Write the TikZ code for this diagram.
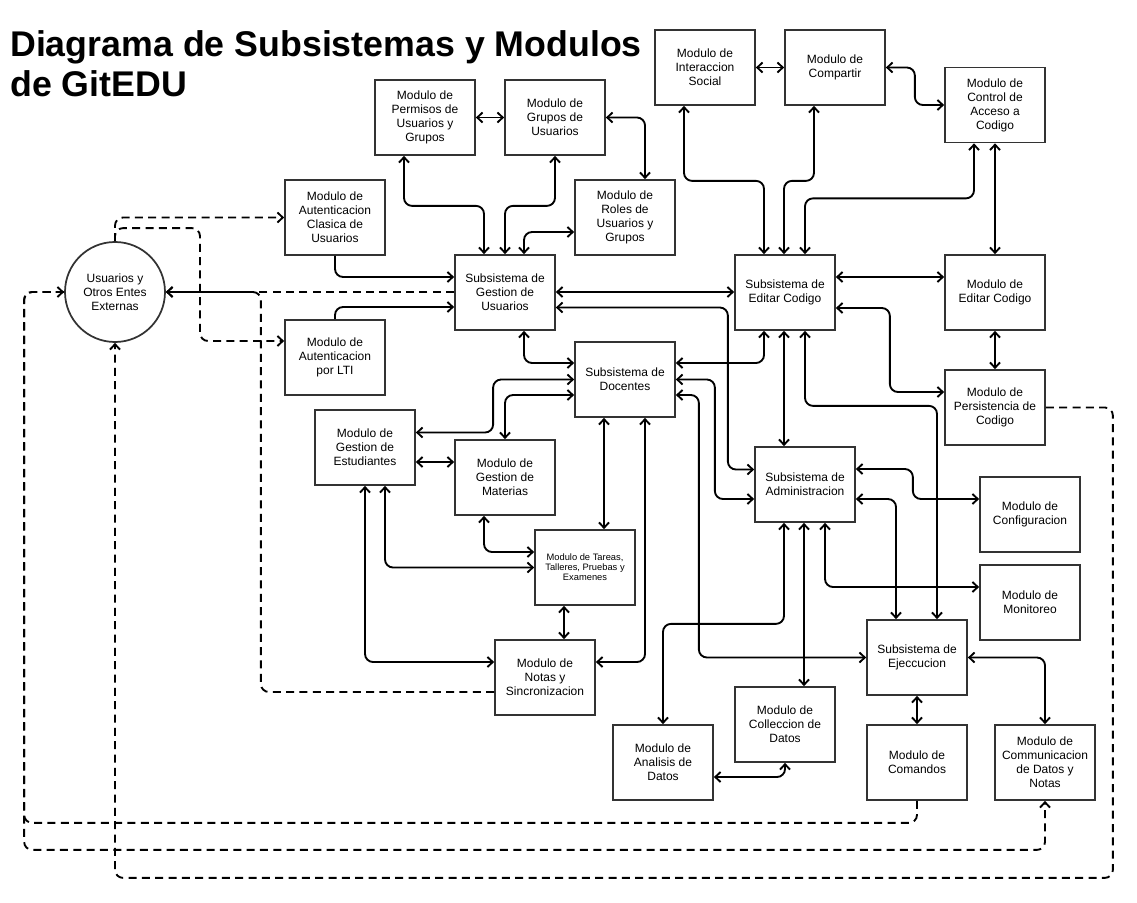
\documentclass[tikz,border=0pt]{standalone}
\usepackage{fontspec}
\setmainfont{Liberation Sans}
\usetikzlibrary{arrows.meta,calc}
\tikzset{
  >={Straight Barb[length=4pt,width=7.5pt]},
  modulo/.style={draw=black!80, line width=1.3pt, minimum width=75pt, minimum height=56.25pt, inner sep=1pt, align=center, font=\fontsize{9}{10.5}\selectfont},
  enlace/.style={line width=1.4pt, rounded corners=6pt},
  externo/.style={line width=1.4pt, rounded corners=6pt, dash pattern=on 6pt off 4pt}
}

\begin{document}
\begin{tikzpicture}[x=0.75pt,y=-0.75pt]
\useasboundingbox (0,0) rectangle (1137,902);
\node[anchor=north west, inner sep=0pt, align=left, font=\fontsize{26.8}{30}\selectfont\bfseries] (titulo) at (10,30) {Diagrama de Subsistemas y Modulos\\de GitEDU};

\node[modulo] (perm) at (425,117.5) {Modulo de\\Permisos de\\Usuarios y\\Grupos};
\node[modulo] (grupos) at (555,117.5) {Modulo de\\Grupos de\\Usuarios};
\node[modulo] (inter) at (705,67.5) {Modulo de\\Interaccion\\Social};
\node[modulo] (compartir) at (835,67.5) {Modulo de\\Compartir};
\node[modulo] (control) at (995,105) {Modulo de\\Control de\\Acceso a\\Codigo};
\node[modulo] (autcla) at (335,217.5) {Modulo de\\Autenticacion\\Clasica de\\Usuarios};
\node[modulo] (roles) at (625,217.5) {Modulo de\\Roles de\\Usuarios y\\Grupos};
\node[modulo, circle, minimum size=75pt, inner sep=0pt] (usr) at (115,292) {Usuarios y\\Otros Entes\\Externas};
\node[modulo] (gu) at (505,292.5) {Subsistema de\\Gestion de\\Usuarios};
\node[modulo] (ec) at (785,292.5) {Subsistema de\\Editar Codigo};
\node[modulo] (emod) at (995,292.5) {Modulo de\\Editar Codigo};
\node[modulo] (autlti) at (335,357.5) {Modulo de\\Autenticacion\\por LTI};
\node[modulo] (doc) at (625,379.5) {Subsistema de\\Docentes};
\node[modulo] (pers) at (995,407.5) {Modulo de\\Persistencia de\\Codigo};
\node[modulo] (est) at (365,447.5) {Modulo de\\Gestion de\\Estudiantes};
\node[modulo] (mat) at (505,477.5) {Modulo de\\Gestion de\\Materias};
\node[modulo] (adm) at (805,484.5) {Subsistema de\\Administracion};
\node[modulo] (conf) at (1030,514.5) {Modulo de\\Configuracion};
\node[modulo, font=\fontsize{7}{7.5}\selectfont] (tar) at (585,567.5) {Modulo de Tareas,\\Talleres, Pruebas y\\Examenes};
\node[modulo] (mon) at (1030,602.5) {Modulo de\\Monitoreo};
\node[modulo] (eje) at (917,657.5) {Subsistema de\\Ejeccucion};
\node[modulo] (notas) at (545,677.5) {Modulo de\\Notas y\\Sincronizacion};
\node[modulo] (col) at (785,724.5) {Modulo de\\Colleccion de\\Datos};
\node[modulo] (ana) at (663,762.5) {Modulo de\\Analisis de\\Datos};
\node[modulo] (com) at (917,762.5) {Modulo de\\Comandos};
\node[modulo] (comm) at (1045,762.5) {Modulo de\\Communicacion\\de Datos y\\Notas};

\draw[enlace,<->] (perm.east) -- (grupos.west);
\draw[enlace,<->] (grupos.east) -| ($(roles.north)+(20,0)$);
\draw[enlace,<->] ($(perm.south)+(-21,0)$) -- ++(0,50) -| ($(gu.north)+(-21,0)$);
\draw[enlace,<->] (grupos.south) -- ++(0,50) -| (gu.north);
\draw[enlace,<->] ($(roles.west)+(0,14.5)$) -| ($(gu.north)+(19,0)$);
\draw[enlace,->] (autcla.south) |- ($(gu.west)+(0,-15.5)$);
\draw[enlace,->] (autlti.north) |- ($(gu.west)+(0,14.5)$);
\draw[enlace,<->] ($(gu.east)+(0,-0.5)$) -- ($(ec.west)+(0,-0.5)$);
\draw[enlace,<->] ($(gu.east)+(0,15)$) -- ++(172,0) |- ($(adm.west)+(0,-15)$);
\draw[enlace,<->] ($(gu.south)+(19,0)$) |- ($(doc.west)+(0,-16.5)$);
\draw[enlace,<->] (doc.west) -- ++(-81,0) |- ($(est.east)+(0,-15)$);
\draw[enlace,<->] ($(doc.west)+(0,15.5)$) -| (mat.north);
\draw[enlace,<->] ($(est.east)+(0,14.5)$) -- ($(mat.west)+(0,-15.5)$);
\draw[enlace,<->] ($(doc.south)+(-21,0)$) -- ($(tar.north)+(19,0)$);
\draw[enlace,<->] ($(doc.south)+(20,0)$) |- ($(notas.east)+(0,-15.5)$);
\draw[enlace,<->] ($(doc.east)+(0,-16.5)$) -| ($(ec.south)+(-21,0)$);
\draw[enlace,<->] (doc.east) -- ++(39,0) |- ($(adm.west)+(0,14.5)$);
\draw[enlace,<->] ($(doc.east)+(0,15.5)$) -- ++(23,0) |- (eje.west);
\draw[enlace,<->] (est.south) |- ($(notas.west)+(0,-15.5)$);
\draw[enlace,<->] ($(est.south)+(20,0)$) |- (tar.west);
\draw[enlace,<->] ($(mat.south)+(-21,0)$) |- ($(tar.west)+(0,-15.5)$);
\draw[enlace,<->] ($(tar.south)+(-21,0)$) -- ($(notas.north)+(19,0)$);

\draw[enlace,<->] (inter.east) -- (compartir.west);
\draw[enlace,<->] (compartir.east) -- ++(29,0) |- (control.west);
\draw[enlace,<->] ($(inter.south)+(-21,0)$) -- ++(0,75) -| ($(ec.north)+(-21,0)$);
\draw[enlace,<->] ($(compartir.south)+(-21,0)$) -- ++(0,75) -| ($(ec.north)+(-1,0)$);
\draw[enlace,<->] ($(control.south)+(-21,0)$) -- ++(0,55) -| ($(ec.north)+(20,0)$);
\draw[enlace,<->] (control.south) -- (emod.north);
\draw[enlace,<->] ($(ec.east)+(0,-15.5)$) -- ($(emod.west)+(0,-15.5)$);
\draw[enlace,<->] ($(ec.east)+(0,15.5)$) -- ++(54,0) |- ($(pers.west)+(0,-15.5)$);
\draw[enlace,<->] (emod.south) -- (pers.north);
\draw[enlace,<->] ($(ec.south)+(-1,0)$) -- ($(adm.north)+(-21,0)$);
\draw[enlace,<->] ($(ec.south)+(20,0)$) -- ++(0,75) -| ($(eje.north)+(20,0)$);

\draw[enlace,<->] ($(adm.east)+(0,-15.5)$) -- ++(57,0) |- ($(conf.west)+(0,-15.5)$);
\draw[enlace,<->] ($(adm.east)+(0,14.5)$) -| ($(eje.north)+(-21,0)$);
\draw[enlace,<->] ($(adm.south)+(20,0)$) |- ($(mon.west)+(0,-15.5)$);
\draw[enlace,<->] ($(adm.south)+(-21,0)$) -- ++(0,101) -| (ana.north);
\draw[enlace,<->] ($(adm.south)+(-1,0)$) -- ($(col.north)+(19,0)$);
\draw[enlace,<->] (col.south) |- ($(ana.east)+(0,14.5)$);
\draw[enlace,<->] (eje.south) -- (com.north);
\draw[enlace,<->] (eje.east) -| (comm.north);

\draw[externo,->] ($(gu.west)+(0,-0.5)$) -- (usr.east);
\draw[externo,->] (usr.north) |- (autcla.west);
\draw[externo,->] (usr.north) -- ++(0,-13) -- ++(85,0) |- ($(autlti.west)+(0,-16.5)$);
\draw[externo,->] ($(notas.west)+(0,14.5)$) -| ($(usr.east)+(95,0)$) -- (usr.east);
\draw[externo,->] (com.south) -- ++(0,22) -| ($(usr.west)+(-40,0)$) -- (usr.west);
\draw[externo,->] (usr.west) -- ++(-40,0) |- ($(comm.south)+(0,49)$) -- (comm.south);
\draw[externo,->] (pers.east) -- ++(67,0) |- ($(usr.south)+(0,535)$) -- (usr.south);
\end{tikzpicture}
\end{document}
